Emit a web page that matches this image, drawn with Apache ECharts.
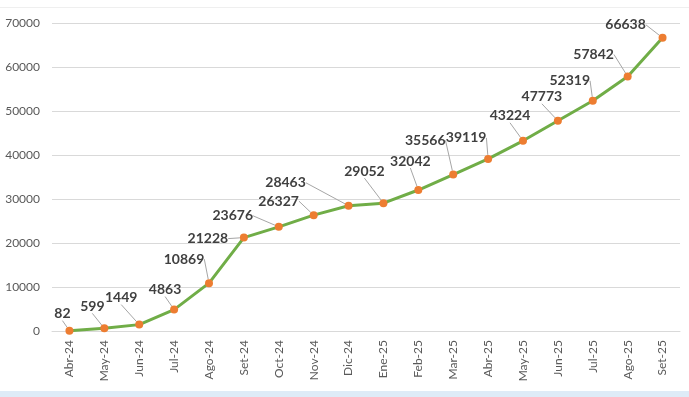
<!DOCTYPE html>
<html>
<head>
<meta charset="utf-8">
<script src="https://cdn.jsdelivr.net/npm/echarts@6/dist/echarts.min.js"></script>
<style>
  html, body { margin: 0; padding: 0; background: #fff; }
  #main { width: 689px; height: 397px; }
</style>
</head>
<body>
<div id="main"></div>
<script>
var months = ['Abr-24', 'May-24', 'Jun-24', 'Jul-24', 'Ago-24', 'Set-24', 'Oct-24', 'Nov-24', 'Dic-24',
  'Ene-25', 'Feb-25', 'Mar-25', 'Abr-25', 'May-25', 'Jun-25', 'Jul-25', 'Ago-25', 'Set-25'];
var totals = [82, 599, 1449, 4863, 10869, 21228, 23676, 26327, 28463,
  29052, 32042, 35566, 39119, 43224, 47773, 52319, 57842, 66638];

// where each label sits relative to its point (pixels)
var labelShift = [[-7, -17], [-12, -22], [-18, -27], [-9, -20], [-25, -24], [-36, 1], [-46, -11], [-35, -14], [-63, -23],
  [-19, -32], [-8, -29], [-28, -34], [-22, -21], [-13, -25], [-16, -24], [-23, -20], [-34, -22], [-37, -13]];

var chart = echarts.init(document.getElementById('main'));

chart.setOption({
  backgroundColor: '#fff',
  animation: false,
  textStyle: { fontFamily: 'Lato, "Open Sans", sans-serif' },
  graphic: [
    { type: 'rect', left: 0, top: 7, shape: { width: 689, height: 1 }, style: { fill: '#efefef' } },
    { type: 'rect', left: 0, top: 391, shape: { width: 689, height: 6 }, style: { fill: '#deebf7' } }
  ],
  grid: { left: 52, right: 9, top: 23, bottom: 66 },
  xAxis: {
    type: 'category',
    data: months,
    axisLine: { lineStyle: { color: '#d9d9d9' } },
    axisTick: { show: false },
    axisLabel: { rotate: 90, color: '#595959', fontSize: 12, margin: 9 }
  },
  yAxis: {
    type: 'value',
    min: 0,
    max: 70000,
    interval: 10000,
    axisLabel: { color: '#595959', fontSize: 12, margin: 12, formatter: function (v) { return String(v); } },
    splitLine: { lineStyle: { color: '#d9d9d9' } }
  },
  series: [{
    type: 'line',
    data: totals,
    symbol: 'circle',
    symbolSize: 8,
    itemStyle: { color: '#ED7D31' },
    lineStyle: { color: '#70AD47', width: 3 },
    label: {
      show: true,
      position: 'inside',
      color: '#404040',
      fontWeight: 'bold',
      fontSize: 14
    },
    labelLine: {
      show: true,
      lineStyle: { color: '#a6a6a6', width: 1 }
    },
    labelLayout: function (p) {
      var s = labelShift[p.dataIndex];
      return { dx: s[0], dy: s[1] };
    }
  }]
});
</script>
</body>
</html>
